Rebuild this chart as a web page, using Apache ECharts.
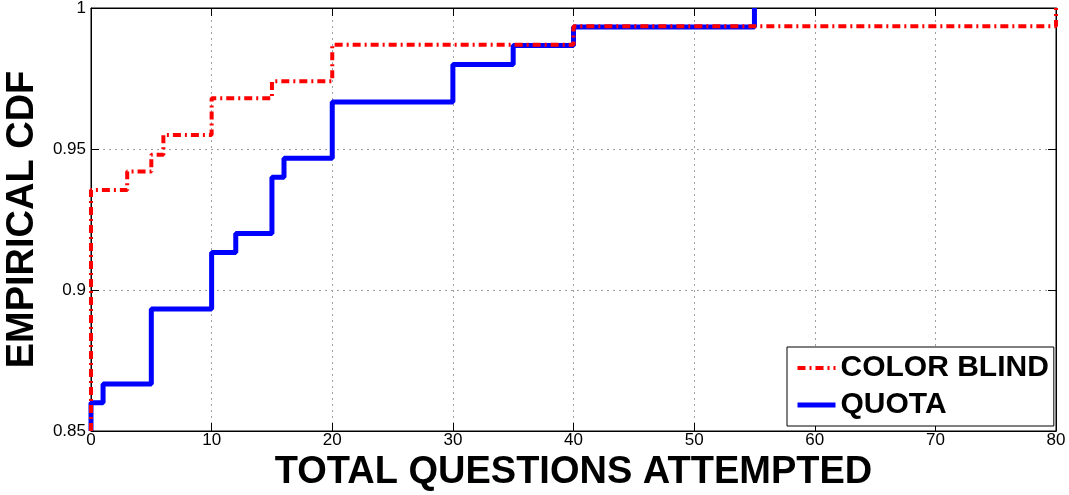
<!DOCTYPE html>
<html>
<head>
<meta charset="utf-8">
<script src="https://cdn.jsdelivr.net/npm/echarts@6/dist/echarts.min.js"></script>
<style>
html,body{margin:0;padding:0;background:#fff;}
#chart{width:1069px;height:495px;}
</style>
</head>
<body>
<div id="chart"></div>
<script>
// ECDF step points [x, y]
var colorBlindX = [0, 0, 3, 5, 6, 10, 15, 20, 40, 80];
var colorBlindY = [0.85, 0.9355, 0.942, 0.948, 0.955, 0.968, 0.974, 0.987, 0.9935, 1];
var quotaX = [0, 0, 1, 5, 10, 12, 15, 16, 20, 30, 35, 40, 55];
var quotaY = [0.85, 0.86, 0.8667, 0.8933, 0.9133, 0.92, 0.94, 0.9467, 0.9667, 0.98, 0.9867, 0.9933, 1];
var seriesNames = ['COLOR BLIND', 'QUOTA'];
var xTitle = 'TOTAL QUESTIONS ATTEMPTED';
var yTitle = 'EMPIRICAL CDF';

function pairs(xs, ys){ return xs.map(function(x,i){ return [x, ys[i]]; }); }

var FONT = 'Liberation Sans, Arial, Helvetica, sans-serif';
var chart = echarts.init(document.getElementById('chart'), null, {renderer:'canvas'});

var gridLine = {show:true, lineStyle:{color:'#a0a0a0', type:[2,4], width:1}};
var redLine = {color:'#ff0000', width:4, type:[8,4,2,4]};
var blueLine = {color:'#0000ff', width:5, type:'solid'};

chart.setOption({
  animation:false,
  backgroundColor:'#fff',
  grid:{left:91, right:13, top:8, bottom:64, outerBoundsMode:'none', containLabel:false,
        show:true, borderColor:'#000', borderWidth:1, backgroundColor:'transparent'},
  legend:{
    orient:'vertical', left:787, top:347,
    backgroundColor:'#fff', borderColor:'#000', borderWidth:1,
    padding:[6,5,6,8], itemGap:7, itemWidth:38, itemHeight:30,
    itemStyle:{opacity:0},
    textStyle:{fontFamily:FONT, fontWeight:'bold', fontSize:30, color:'#000', lineHeight:30},
    data:[
      {name:seriesNames[0], lineStyle:redLine},
      {name:seriesNames[1], lineStyle:blueLine}
    ]
  },
  xAxis:[{
    type:'value', min:0, max:80, interval:10,
    name:xTitle, nameLocation:'middle', nameGap:21,
    nameTextStyle:{fontFamily:FONT, fontWeight:'bold', fontSize:38, color:'#000'},
    axisLine:{show:true, onZero:false, lineStyle:{color:'#000', width:1}},
    axisTick:{show:true, inside:true, length:8, lineStyle:{color:'#000'}},
    axisLabel:{margin:1, fontFamily:FONT, fontSize:17, color:'#000'},
    splitLine:gridLine
  },{
    type:'value', position:'top', min:0, max:80, interval:10,
    axisLine:{show:true, onZero:false, lineStyle:{color:'#000', width:1}},
    axisTick:{show:true, inside:true, length:8, lineStyle:{color:'#000'}},
    axisLabel:{show:false}, splitLine:{show:false}
  }],
  yAxis:[{
    type:'value', min:0.85, max:1, interval:0.05,
    name:yTitle, nameLocation:'middle', nameGap:47, nameRotate:90,
    nameTextStyle:{fontFamily:FONT, fontWeight:'bold', fontSize:38, color:'#000'},
    axisLine:{show:true, onZero:false, lineStyle:{color:'#000', width:1}},
    axisTick:{show:true, inside:true, length:8, lineStyle:{color:'#000'}},
    axisLabel:{margin:5, fontFamily:FONT, fontSize:17, color:'#000',
      formatter:function(v){ return String(+v.toFixed(2)); }},
    splitLine:gridLine
  },{
    type:'value', position:'right', min:0.85, max:1, interval:0.05,
    axisLine:{show:true, onZero:false, lineStyle:{color:'#000', width:1}},
    axisTick:{show:true, inside:true, length:8, lineStyle:{color:'#000'}},
    axisLabel:{show:false}, splitLine:{show:false}
  }],
  series:[{
    name:seriesNames[0], type:'line', step:'end', symbol:'none', clip:true,
    data:pairs(colorBlindX, colorBlindY),
    lineStyle:redLine,
    itemStyle:{color:'#ff0000'}, z:3
  },{
    name:seriesNames[1], type:'line', step:'end', symbol:'none', clip:true,
    data:pairs(quotaX, quotaY),
    lineStyle:blueLine,
    itemStyle:{color:'#0000ff'}, z:2
  }]
});
</script>
</body>
</html>
